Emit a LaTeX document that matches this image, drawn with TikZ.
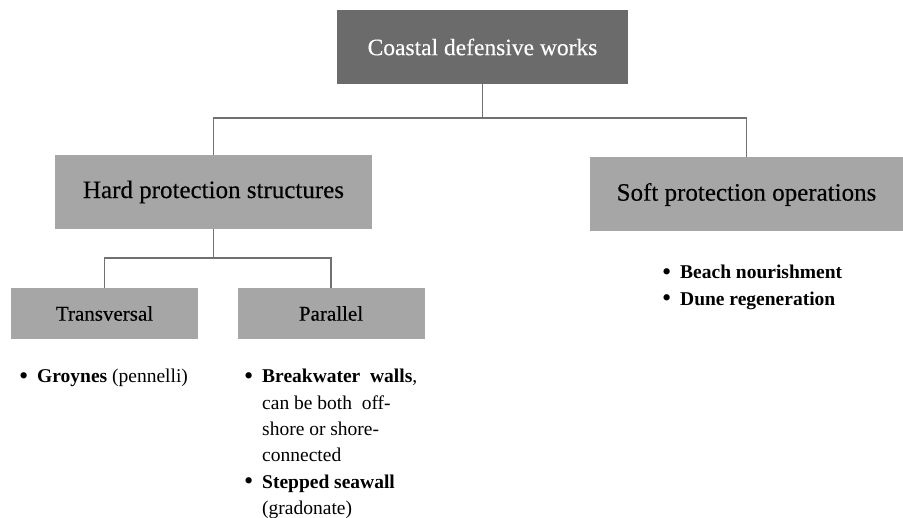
\documentclass[tikz,border=0pt]{standalone}
\usepackage{fontspec}
\setmainfont{Liberation Serif}
\newfontfamily\titlefont[FakeBold=0.3]{Liberation Serif}
\usepackage{xcolor}
\usepackage{graphicx}
\usetikzlibrary{positioning,calc}

\definecolor{topgray}{RGB}{107,107,107}
\definecolor{boxgray}{RGB}{166,166,166}
\definecolor{linegray}{RGB}{112,112,112}

\newcommand{\itembullet}{\makebox[18pt][l]{\raisebox{-1.6pt}{\scalebox{1.35}{\textbullet}}}}

\begin{document}
\begin{tikzpicture}[x=1pt, y=-1pt]
\tikzstyle{topbox} = [rectangle, fill=topgray, text=white, minimum width=291pt, minimum height=74pt, text centered, font=\titlefont\fontsize{23.5}{28}\selectfont]
\tikzstyle{mainbox} = [rectangle, fill=boxgray, minimum height=74pt, text centered, font=\titlefont\fontsize{25}{29}\selectfont]
\tikzstyle{subbox} = [rectangle, fill=boxgray, minimum width=187pt, minimum height=51pt, text centered, font=\titlefont\fontsize{21}{25}\selectfont]
\tikzstyle{conn} = [draw=linegray, line width=1.4pt]
\tikzstyle{items} = [anchor=north west, inner sep=0pt, font=\fontsize{19.5}{26.4}\selectfont]

\useasboundingbox (0,0) rectangle (903,518);

% boxes
\node[topbox] (coastal) at (482.5,47) {Coastal defensive works};
\node[mainbox, minimum width=317pt] (hard) at (213.5,192) {Hard protection structures};
\node[mainbox, minimum width=313pt] (soft) at (746.5,194.5) {Soft protection operations};
\node[subbox] (trans) at (104.5,313.5) {Transversal};
\node[subbox] (par) at (331,313.5) {Parallel};

% connectors
\coordinate (busA) at (482.5,118);
\coordinate (busB) at (213.5,258);
\draw[conn] (coastal.south) -- (busA);
\draw[conn] (hard.north) |- (busA) -| (soft.north);
\draw[conn] (hard.south) -- (busB);
\draw[conn] (trans.north) |- (busB) -| (par.north);

% bullet lists
\node[items] (groynes) at (19,364) {%
  \begin{tabular}{@{}l@{}l@{}}
  \itembullet & \textbf{Groynes} (pennelli)
  \end{tabular}};
\node[items] (parlist) at (244,364) {%
  \begin{tabular}{@{}l@{}l@{}}
  \itembullet & \textbf{Breakwater\ \ walls}, \\
   & can be both\ \ off- \\
   & shore or shore- \\
   & connected \\
  \itembullet & \textbf{Stepped seawall} \\
   & (gradonate)
  \end{tabular}};
\node[items] (softlist) at (662,260) {%
  \begin{tabular}{@{}l@{}l@{}}
  \itembullet & \textbf{Beach nourishment} \\
  \itembullet & \textbf{Dune regeneration}
  \end{tabular}};
\end{tikzpicture}
\end{document}
